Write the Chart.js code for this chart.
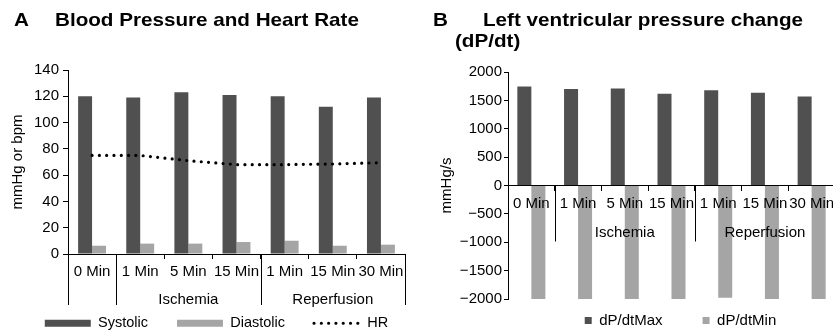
<!DOCTYPE html>
<html>
<head>
<meta charset="utf-8">
<script src="https://cdn.jsdelivr.net/npm/chart.js@4.4.0/dist/chart.umd.min.js"></script>
<style>
  html, body { margin: 0; padding: 0; background: #fff; overflow: hidden; width: 833px; height: 331px; }
  canvas { position: absolute; top: 0; }
  #chartA { left: 0; }
  #chartB { left: 420px; }
  .ttl {
    position: absolute; white-space: nowrap; color: #000;
    font: bold 18.6px 'Liberation Sans', Arial, sans-serif; line-height: 20px;
    transform: scaleX(1.11); transform-origin: left top;
  }
</style>
</head>
<body>
<canvas id="chartA" width="420" height="331"></canvas>
<canvas id="chartB" width="420" height="331"></canvas>
<div class="ttl" style="left:14px;top:9.5px">A</div>
<div class="ttl" style="left:55px;top:9.5px">Blood Pressure and Heart Rate</div>
<div class="ttl" style="left:433px;top:9.5px">B</div>
<div class="ttl" style="left:483px;top:9.5px">Left ventricular pressure change</div>
<div class="ttl" style="left:455px;top:30.5px">(dP/dt)</div>
<script>
// Categories (both panels share the same time points)
const categories = ['0 Min', '1 Min', '5 Min', '15 Min', '1 Min', '15 Min', '30 Min'];
const groupNames = ['', 'Ischemia', 'Reperfusion'];
const groupStarts = [0, 1, 4, 7]; // first category index of each group, plus the end

// Panel A - blood pressure and heart rate
const systolic = [120, 119, 123, 121, 120, 112, 119];
const diastolic = [6.3, 7.9, 7.9, 9.1, 10.1, 6.3, 7.1];
const heartRate = [75, 75, 71, 68, 68, 68.5, 69.5];
const bpAxis = [0, 140, 20]; // min, max, step

// Panel B - dP/dt
const dpdtMax = [1745, 1700, 1710, 1615, 1680, 1635, 1570];
const dpdtMin = [-2000, -2000, -2000, -2000, -1980, -2000, -2000];
const dpAxis = [-2000, 2000, 500];

const DARK = '#505050';
const LIGHT = '#a5a5a5';
const FONT = "'Liberation Sans', Arial, sans-serif";

Chart.defaults.font.family = FONT;
Chart.defaults.font.size = 15;
Chart.defaults.color = '#000';

const fmtTick = v => (v < 0 ? '\u2212' + Math.abs(v) : String(v));

/**
 * Group labels under the category axis (Ischemia / Reperfusion) + separators,
 * and moves the legend where the original has it
 */
const groupAxis = {
  id: 'groupAxis',
  afterLayout(chart, args, opts) {
    const lg = chart.legend;
    if (!lg) return;
    lg.left += opts.legendDx;
    lg.right += opts.legendDx;
    lg.top = opts.legendTop;
    lg.bottom = chart.height;
    lg.height = lg.bottom - lg.top;
  },
  afterDraw(chart, args, opts) {
    const x = chart.scales.x;
    const base = chart.scales.y.getPixelForValue(0);
    const ctx = chart.ctx;
    ctx.save();
    ctx.strokeStyle = '#000';
    ctx.lineWidth = 1;
    groupStarts.forEach(i => {
      const px = Math.round(x.getPixelForValue(i - 0.5)) + 0.5;
      ctx.beginPath();
      ctx.moveTo(px, base);
      ctx.lineTo(px, base + opts.lineLength);
      ctx.stroke();
    });
    ctx.font = '15px ' + FONT;
    ctx.fillStyle = '#000';
    ctx.textAlign = 'center';
    ctx.textBaseline = 'middle';
    groupNames.forEach((name, g) => {
      const a = x.getPixelForValue(groupStarts[g] - 0.5);
      const b = x.getPixelForValue(groupStarts[g + 1] - 0.5);
      ctx.fillText(name, (a + b) / 2, base + opts.labelOffset);
    });
    ctx.restore();
  },
};

function legendItems(chart) {
  return chart.data.datasets.map((ds, i) => ({
    text: ds.label,
    datasetIndex: i,
    hidden: false,
    fillStyle: ds.type === 'line' ? 'rgba(0,0,0,0)' : ds.backgroundColor,
    strokeStyle: ds.type === 'line' ? ds.borderColor : ds.backgroundColor,
    lineWidth: ds.type === 'line' ? ds.borderWidth : 0,
    lineDash: ds.borderDash || [],
    lineCap: ds.borderCapStyle || 'butt',
    pointStyle: ds.type === 'line' ? 'line' : 'rect',
  }));
}

const axisGrid = { display: true, drawOnChartArea: false, drawTicks: true, tickLength: 5, color: '#000' };

// Panel A
new Chart(document.getElementById('chartA'), {
  type: 'bar',
  data: {
    labels: categories,
    datasets: [
      { type: 'bar', label: 'Systolic', data: systolic, backgroundColor: DARK, order: 1, categoryPercentage: 0.58, barPercentage: 1 },
      { type: 'bar', label: 'Diastolic', data: diastolic, backgroundColor: LIGHT, order: 2, categoryPercentage: 0.58, barPercentage: 1 },
      {
        type: 'line', label: 'HR', data: heartRate, order: 0,
        borderColor: '#000', borderWidth: 3.2, borderDash: [0, 7.3], borderCapStyle: 'round',
        pointRadius: 0, fill: false, tension: 0,
      },
    ],
  },
  options: {
    responsive: false,
    animation: false,
    devicePixelRatio: 1,
    layout: { padding: { top: 70, right: 15, bottom: 0, left: 0 } },
    plugins: {
      tooltip: { enabled: false },
      legend: {
        position: 'bottom',
        maxHeight: 17,
        labels: {
          usePointStyle: true, pointStyleWidth: 46, boxHeight: 7, padding: 29,
          font: { size: 14.5 }, generateLabels: legendItems,
        },
      },
      groupAxis: { lineLength: 51, labelOffset: 46, legendDx: 14, legendTop: 287 },
    },
    scales: {
      x: {
        grid: { ...axisGrid, offset: true },
        border: { color: '#000' },
        ticks: { autoSkip: false, maxRotation: 0, minRotation: 0, padding: 4 },
        afterFit: s => { s.height = 60; },
      },
      y: {
        min: bpAxis[0], max: bpAxis[1],
        ticks: { stepSize: bpAxis[2], padding: 4, callback: fmtTick },
        grid: axisGrid,
        border: { color: '#000' },
        title: { display: true, text: 'mmHg or bpm', padding: { top: 9, bottom: 0 } },
        afterFit: s => { s.width = 68; },
      },
    },
  },
  plugins: [groupAxis],
});

// Panel B
new Chart(document.getElementById('chartB'), {
  type: 'bar',
  data: {
    labels: categories,
    datasets: [
      { label: 'dP/dtMax', data: dpdtMax, backgroundColor: DARK, categoryPercentage: 0.6, barPercentage: 1 },
      { label: 'dP/dtMin', data: dpdtMin, backgroundColor: LIGHT, categoryPercentage: 0.6, barPercentage: 1 },
    ],
  },
  options: {
    responsive: false,
    animation: false,
    devicePixelRatio: 1,
    layout: { padding: { top: 72, right: 5, bottom: 15, left: 0 } },
    plugins: {
      tooltip: { enabled: false },
      legend: {
        position: 'bottom',
        maxHeight: 17,
        labels: {
          usePointStyle: true, pointStyleWidth: 7, boxHeight: 7, padding: 40,
          font: { size: 15 }, generateLabels: legendItems,
        },
      },
      groupAxis: { lineLength: 56, labelOffset: 47, legendDx: 53, legendTop: 273 },
    },
    scales: {
      x: {
        position: { y: 0 },
        grid: { ...axisGrid, offset: true, z: 1 },
        border: { color: '#000', z: 1 },
        ticks: { autoSkip: false, maxRotation: 0, minRotation: 0, padding: 4, z: 1 },
      },
      y: {
        min: dpAxis[0], max: dpAxis[1],
        ticks: { stepSize: dpAxis[2], padding: 2, callback: fmtTick },
        grid: { ...axisGrid, tickLength: 4 },
        border: { color: '#000' },
        title: { display: true, text: 'mmHg/s', padding: { top: 18, bottom: 0 } },
        afterFit: s => { s.width = 88; },
      },
    },
  },
  plugins: [groupAxis],
});
</script>
</body>
</html>
